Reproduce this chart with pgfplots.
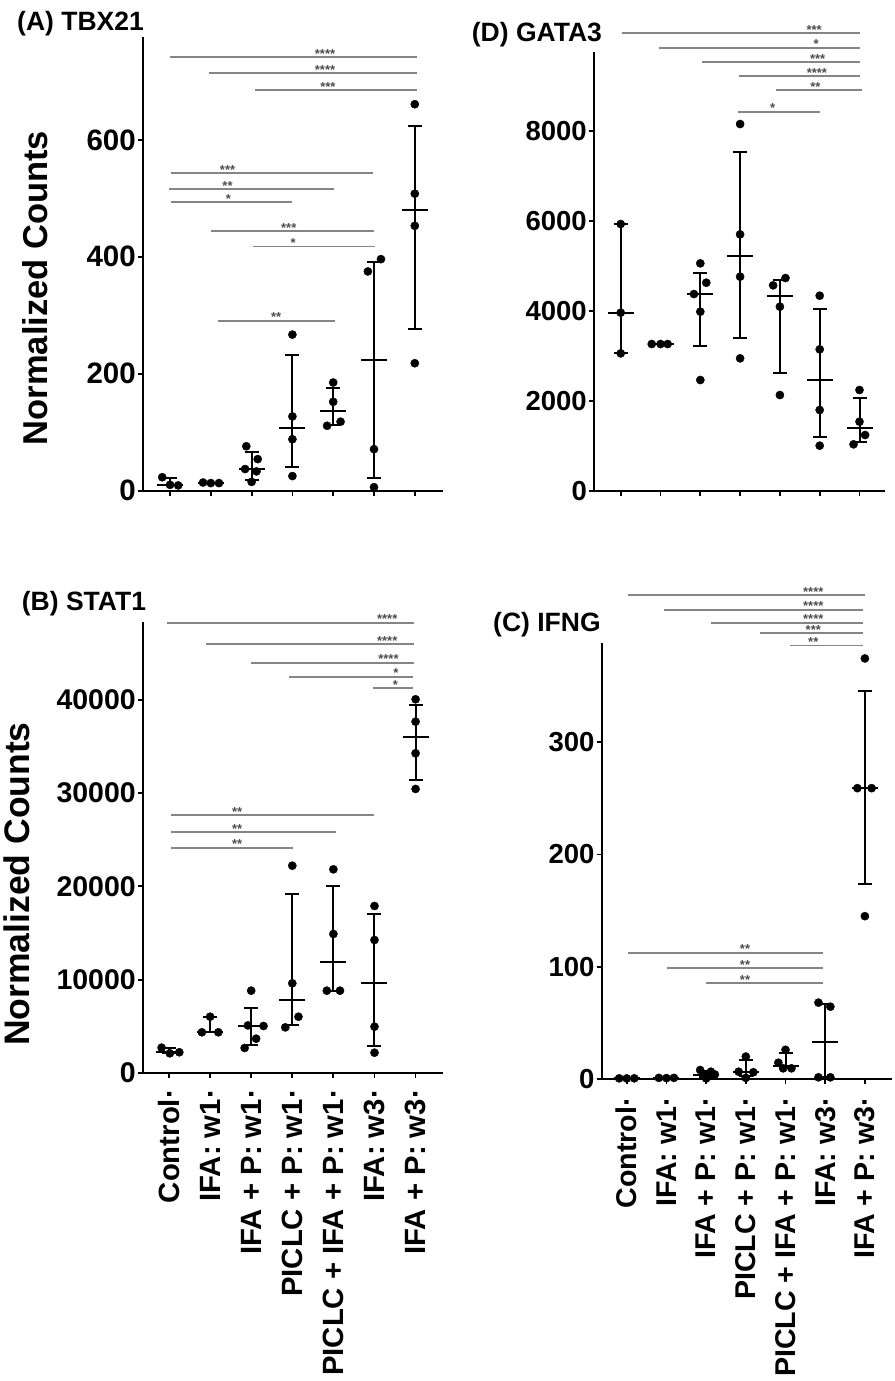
\documentclass[border=0pt]{standalone}
\usepackage{pgfplots}
\pgfplotsset{compat=1.18}
\usepackage{fontspec}
\setmainfont{Liberation Sans}
\definecolor{sigline}{gray}{0.52}
\definecolor{stargray}{gray}{0.3}
\newcommand{\tickfont}{\bfseries\fontsize{27.5}{27.5}\selectfont}
\newcommand{\titlefont}{\bfseries\fontsize{26.5}{26.5}\selectfont}
\newcommand{\starfont}{\bfseries\fontsize{13}{13}\selectfont}
\pgfplotsset{
  panel/.style={
    scale only axis, clip=false,
    axis x line=bottom, axis y line=left,
    axis line style={-, line width=2.2pt, black},
    ymin=0,
    xtick={0,...,6},
    tick align=outside,
    major tick length=5pt,
    tick style={line width=1.8pt, black},
    scaled y ticks=false,
    yticklabel style={font=\tickfont, /pgf/number format/1000 sep={}, /pgf/number format/assume math mode=true, inner sep=0pt},
    yticklabel shift=2pt,
    xticklabels={},
  },
  cats/.style={
    xticklabels={Control·, IFA: w1·, IFA + P: w1·, PICLC + P: w1·, PICLC + IFA + P: w1·, IFA: w3·, IFA + P: w3·},
    xticklabel style={rotate=90, anchor=east, inner sep=0pt},
  },
  dots/.style={only marks, mark=*, mark size=4.1pt, black},
  med/.style={only marks, mark=-, mark size=13pt, mark options={line width=2pt, black}, black,
    error bars/.cd, y dir=both, y explicit,
    error bar style={line width=2pt, black},
    error mark options={rotate=90, mark size=7pt, line width=2pt, black}},
  sig/.style={sigline, line width=1.8pt, mark=none},
}
\newcommand{\stars}[3]{\node[anchor=base, font=\starfont, text=stargray, inner sep=0pt, yshift=-1.2pt] at (axis cs:#1,#2) {#3};}
\begin{document}
\begin{tikzpicture}
\useasboundingbox (0,0) rectangle (894pt,1381pt);

% ---------------- (A) TBX21
\begin{axis}[panel, at={(143pt,890.3pt)}, anchor=south west, width=300pt, height=453.7pt,
  xmin=-0.662, xmax=6.691, ymax=776, ytick={0,200,400,600},
  yticklabel style={font=\bfseries\fontsize{29.5}{29.5}\selectfont}]
\addplot[sig] coordinates {(0,741.5) (6.06,741.5)};
\addplot[sig] coordinates {(0.96,714.6) (6.05,714.6)};
\addplot[sig] coordinates {(2.08,685.5) (6.05,685.5)};
\addplot[sig] coordinates {(0.02,543) (4.98,543)};
\addplot[sig] coordinates {(-0.02,515.6) (4.03,515.6)};
\addplot[sig] coordinates {(0.02,494) (2.98,494)};
\addplot[sig] coordinates {(1.0,443.8) (5.0,443.8)};
\addplot[sig] coordinates {(2.04,417.5) (5.02,417.5)};
\addplot[sig] coordinates {(1.17,290.9) (4.04,290.9)};
\stars{3.80}{741.5}{****}
\stars{3.80}{714.6}{****}
\stars{3.87}{685.5}{***}
\stars{1.41}{543}{***}
\stars{1.41}{515.6}{**}
\stars{1.43}{494}{*}
\stars{2.91}{443.8}{***}
\stars{3.02}{417.5}{*}
\stars{2.60}{290.9}{**}
\addplot[med] coordinates {
 (0,10) += (0,12) -= (0,1)
 (1,13) += (0,0) -= (0,0)
 (2,37) += (0,29) -= (0,19)
 (3,108) += (0,124) -= (0,67)
 (4,136) += (0,40) -= (0,23)
 (5,223) += (0,168) -= (0,201)
 (6,480) += (0,143) -= (0,203)};
\addplot[dots] coordinates {
 (-0.19,23) (0,10) (0.2,9)
 (0.81,14) (1,13) (1.2,13)
 (1.87,76) (2.15,54) (1.84,37) (2.12,33) (2,15)
 (3,267) (3,127) (3,88) (3,25)
 (4,185) (4,152) (3.85,111) (4.18,118)
 (4.85,375) (5.17,396) (5,71) (5,6)
 (6,661) (6,508) (6,453) (6,218)};
\end{axis}

% ---------------- (D) GATA3
\begin{axis}[panel, at={(594pt,890.3pt)}, anchor=south west, width=291pt, height=439pt,
  xmin=-0.671, xmax=6.641, ymax=9756, ytick={0,2000,4000,6000,8000}]
\addplot[sig] coordinates {(0.02,10163) (6.0,10163)};
\addplot[sig] coordinates {(0.96,9844) (6.0,9844)};
\addplot[sig] coordinates {(2.03,9519) (6.0,9519)};
\addplot[sig] coordinates {(2.98,9215) (6.0,9215)};
\addplot[sig] coordinates {(3.9,8904) (6.06,8904)};
\addplot[sig] coordinates {(2.95,8422) (5.01,8422)};
\stars{4.86}{10163}{***}
\stars{4.91}{9844}{*}
\stars{4.95}{9519}{***}
\stars{4.93}{9215}{****}
\stars{4.89}{8904}{**}
\stars{3.82}{8422}{*}
\addplot[med] coordinates {
 (0,3956) += (0,1970) -= (0,904)
 (1,3259) += (0,0) -= (0,0)
 (2,4370) += (0,467) -= (0,1152)
 (3,5226) += (0,2309) -= (0,1831)
 (4,4326) += (0,359) -= (0,1709)
 (5,2467) += (0,1568) -= (0,1269)
 (6,1385) += (0,676) -= (0,303)};
\addplot[dots] coordinates {
 (0,5926) (0,3956) (0,3052)
 (0.78,3259) (1,3259) (1.18,3259)
 (2,5052) (2.15,4622) (1.84,4370) (2,3978) (2,2459)
 (3,8148) (3,5696) (3,4756) (3,2941)
 (3.83,4563) (4.14,4726) (4,4089) (4,2126)
 (5,4333) (5,3141) (5,1793) (5,1000)
 (6,2237) (6,1533) (6.14,1237) (5.85,1030)};
\end{axis}

% ---------------- (B) STAT1
\begin{axis}[panel, cats, at={(143pt,308pt)}, anchor=south west, width=300pt, height=451.3pt,
  xmin=-0.633, xmax=6.667, ymax=48371, ytick={0,10000,20000,30000,40000},
  yticklabel style={font=\bfseries\fontsize{28.5}{28.5}\selectfont},
  xticklabel style={font=\bfseries\fontsize{29.3}{29.3}\selectfont},
  xticklabel shift=11pt]
\addplot[sig] coordinates {(-0.04,48264) (5.96,48264)};
\addplot[sig] coordinates {(0.9,45948) (5.96,45948)};
\addplot[sig] coordinates {(1.99,43977) (5.95,43977)};
\addplot[sig] coordinates {(2.93,42476) (5.93,42476)};
\addplot[sig] coordinates {(4.96,41233) (5.93,41233)};
\addplot[sig] coordinates {(0.06,27620) (5.0,27620)};
\addplot[sig] coordinates {(0.06,25798) (4.06,25798)};
\addplot[sig] coordinates {(0.06,24148) (3.02,24148)};
\stars{5.31}{48264}{****}
\stars{5.31}{45948}{****}
\stars{5.34}{43977}{****}
\stars{5.52}{42476}{*}
\stars{5.51}{41233}{*}
\stars{1.66}{27620}{**}
\stars{1.66}{25798}{**}
\stars{1.66}{24148}{**}
\addplot[med] coordinates {
 (0,2222) += (0,494) -= (0,114)
 (1,4362) += (0,1672) -= (0,0)
 (2,5037) += (0,1897) -= (0,2036)
 (3,7824) += (0,11329) -= (0,2647)
 (4,11860) += (0,8235) -= (0,3036)
 (5,9610) += (0,7379) -= (0,6734)
 (6,35963) += (0,3492) -= (0,4564)};
\addplot[dots] coordinates {
 (-0.18,2716) (0.02,2108) (0.25,2222)
 (1,6034) (0.8,4362) (1.2,4362)
 (2,8824) (2.3,5037) (1.92,5100) (2.12,3680) (1.84,2680)
 (3,22218) (3,9614) (3.15,6034) (2.83,4891)
 (4,21828) (4,14897) (3.84,8824) (4.16,8824)
 (5,17900) (5,14255) (5,4966) (5,2179)
 (6,40053) (6,37660) (6,34266) (6,30443)};
\end{axis}

% ---------------- (C) IFNG
\begin{axis}[panel, cats, at={(601.7pt,302pt)}, anchor=south west, width=290pt, height=435.7pt,
  xmin=-0.63, xmax=6.675, ymax=388, ytick={0,100,200,300},
  xticklabel style={font=\bfseries\fontsize{28.6}{28.6}\selectfont},
  xticklabel shift=13pt]
\addplot[sig] coordinates {(0.04,431) (6.0,431)};
\addplot[sig] coordinates {(0.94,418) (5.96,418)};
\addplot[sig] coordinates {(2.12,406.3) (5.96,406.3)};
\addplot[sig] coordinates {(3.36,396.9) (5.96,396.9)};
\addplot[sig] coordinates {(4.11,386) (5.96,386)};
\addplot[sig] coordinates {(0.04,112.5) (4.95,112.5)};
\addplot[sig] coordinates {(1.01,98.6) (4.94,98.6)};
\addplot[sig] coordinates {(2.0,85.2) (4.95,85.2)};
\stars{4.70}{431}{****}
\stars{4.70}{418}{****}
\stars{4.70}{406.3}{****}
\stars{4.70}{396.9}{***}
\stars{4.70}{386}{**}
\stars{2.98}{112.5}{**}
\stars{2.98}{98.6}{**}
\stars{2.98}{85.2}{**}
\addplot[med] coordinates {
 (0,0.5) += (0,0) -= (0,0)
 (1,0.9) += (0,0) -= (0,0)
 (2,4) += (0,3.2) -= (0,2.3)
 (3,6.25) += (0,10.35) -= (0,3.95)
 (4,12) += (0,11) -= (0,2.5)
 (5,33) += (0,34) -= (0,31.5)
 (6,259) += (0,86.5) -= (0,85.5)};
\addplot[dots] coordinates {
 (-0.19,0.6) (0,0.5) (0.19,0.6)
 (0.81,1) (1,0.8) (1.19,1)
 (1.85,8) (2.12,6.5) (2.22,4) (1.95,3) (2,0.5)
 (3,20) (2.82,6.5) (3.19,6) (3,1)
 (4,26) (3.82,14.5) (3.94,9.5) (4.15,9.5)
 (4.83,68) (5.13,64.4) (4.83,1.5) (5.13,1.5)
 (6,374.5) (5.81,259) (6.17,259) (6,145)};
\end{axis}

% titles and axis labels
\node[anchor=base west, font=\titlefont, inner sep=0pt] at (17pt,1350pt) {(A) TBX21};
\node[anchor=base west, font=\titlefont, inner sep=0pt] at (471.7pt,1339pt) {(D) GATA3};
\node[anchor=base west, font=\titlefont, inner sep=0pt] at (21.7pt,770pt) {(B) STAT1};
\node[anchor=base west, font=\titlefont, inner sep=0pt] at (493pt,749pt) {(C) IFNG};
\node[rotate=90, font=\bfseries\fontsize{34.5}{34.5}\selectfont, inner sep=0pt] at (35pt,1093pt) {Normalized Counts};
\node[rotate=90, font=\bfseries\fontsize{35.5}{35.5}\selectfont, inner sep=0pt] at (16.7pt,497pt) {Normalized Counts};
\end{tikzpicture}
\end{document}
